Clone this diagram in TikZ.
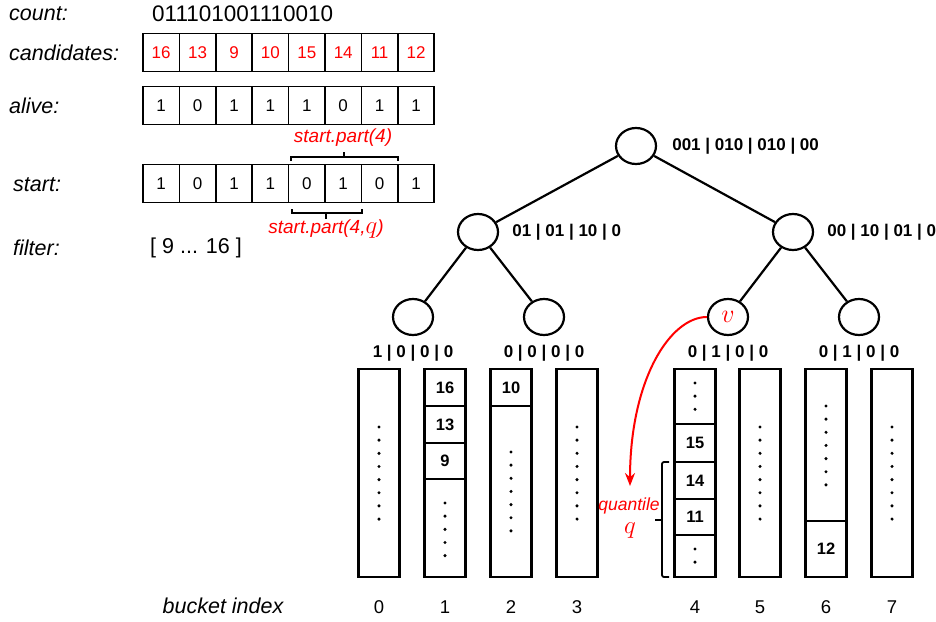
\RequirePackage{fix-cm}
\documentclass[tikz,border=0pt]{standalone}
\usepackage{fontspec}
\setmainfont{Liberation Sans}
\usetikzlibrary{positioning,shapes.geometric,arrows.meta}

\begin{document}
\begin{tikzpicture}[x=1pt,y=-1pt,
    tag/.style={font={\fontsize{21.5}{24}\selectfont\itshape},anchor=west,inner sep=0},
    txt/.style={font={\fontsize{21.5}{24}\selectfont},anchor=west,inner sep=0},
    cell/.style={draw,line width=1.5pt,minimum width=36.4,minimum height=38,
        inner sep=0,font={\fontsize{17}{20}\selectfont}},
    note/.style={red,font={\fontsize{19}{22}\selectfont\itshape}},
    knot/.style={draw,ellipse,line width=2.2pt,minimum width=40,
        minimum height=36,inner sep=0},
    branch/.style={line width=2.2pt},
    bits/.style={font={\fontsize{17}{20}\selectfont\bfseries},inner sep=1pt},
    bucket/.style={draw,line width=2.2pt,minimum width=41,minimum height=208,inner sep=0},
    entry/.style={font={\fontsize{16.5}{20}\selectfont\bfseries}},
    idx/.style={font={\fontsize{18.5}{22}\selectfont}}]
\useasboundingbox (0,0) rectangle (936,621);

% arrays on the left
\node[tag] (count) at (9,14) {count:};
\node[txt,font={\fontsize{22.5}{25}\selectfont}] (countval) at (152,14) {011101001110010};
\node[tag] (candlbl) at (9,53) {candidates:};
\node[tag] (alivelbl) at (9,106) {alive:};
\node[tag] (startlbl) at (13,185) {start:};
\node[tag] (filterlbl) at (13,248) {filter:};
\node[txt] (filter) at (150,248) {[ 9 ... 16 ]};

\foreach \v [count=\i] in {16,13,9,10,15,14,11,12}
    \node[cell,text=red] (cand\i) at ({143+36.4*(\i-.5)},52.5) {\v};
\foreach \v [count=\i] in {1,0,1,1,1,0,1,1}
    \node[cell] (alive\i) at ({143+36.4*(\i-.5)},105.5) {\v};
\foreach \v [count=\i] in {1,0,1,1,0,1,0,1}
    \node[cell] (start\i) at ({143+36.4*(\i-.5)},183.5) {\v};

\draw[line width=1.4pt] (291,161) -- (291,157) -- (398,157) -- (398,161)
    (344,157) -- (344,152);
\node[note] (part) at (343,138) {start.part(4)};
\draw[line width=1.4pt] (292,209) -- (292,213) -- (362,213) -- (362,209)
    (326,213) -- (326,219);
\node[note] (partq) at (326,229) {start.part(4,{\fontsize{25}{28}\selectfont$q$})};

% tree
\node[knot] (root) at (636,146) {};
\node[knot] (n0) at (478,232) {};
\node[knot] (n1) at (793,232) {};
\node[knot] (l0) at (413,317) {};
\node[knot] (l1) at (544,317) {};
\node[knot,text=red] (v) at (728,317) {\fontsize{26}{28}\selectfont$v$};
\node[knot] (l3) at (859,317) {};
\draw[branch] (root) -- (n0) (root) -- (n1) (n0) -- (l0) (n0) -- (l1)
    (n1) -- (v) (n1) -- (l3);

\node[bits,right=14pt of root] (rootbits) {001 | 010 | 010 | 00};
\node[bits,right=12pt of n0] (n0bits) {01 | 01 | 10 | 0};
\node[bits,right=12pt of n1] (n1bits) {00 | 10 | 01 | 0};
\node[bits,below=8pt of l0] (l0bits) {1 | 0 | 0 | 0};
\node[bits,below=8pt of l1] (l1bits) {0 | 0 | 0 | 0};
\node[bits,below=8pt of v] (vbits) {0 | 1 | 0 | 0};
\node[bits,below=8pt of l3] (l3bits) {0 | 1 | 0 | 0};

% buckets
\foreach \x [count=\i from 0] in {379,445,511,577,695,760,826,892} {
    \node[bucket] (b\i) at (\x,473) {};
    \node[idx] (i\i) at (\x,607) {\i};
}
\node[tag,anchor=center] (bidx) at (223,606) {bucket index};

\foreach \x/\y in {445/406,445/443,445/479,511/406,695/424,695/462,695/499,695/535,826/521}
    \draw[branch] (\x-20.5,\y) -- (\x+20.5,\y);
\foreach \x/\y/\v in {445/387.5/16,445/424.5/13,445/461/9,511/387.5/10,
        695/443/15,695/480.5/14,695/517/11,826/549/12}
    \node[entry] (e\v) at (\x,\y) {\v};
\foreach \x/\top/\n in {379/427/7,445/503/4,511/452/6,577/427/7,695/383/2,
        695/549/1,760/427/7,826/406/6,892/427/7}
    \foreach \k in {0,...,\n}
        \fill (\x,{\top+13.15*\k}) circle (1.7pt);

% quantile
\draw[line width=1.8pt,rounded corners=2pt] (669,462) -- (662,462) -- (662,577) -- (669,577);
\draw[line width=1.8pt] (662,520) -- (655,520);
\node[note,inner sep=0,font={\fontsize{17.5}{20}\selectfont\itshape}] (quant) at (629,506) {quantile};
\node[red,inner sep=0] (qq) at (630,531) {\fontsize{25}{28}\selectfont$q$};
\draw[red,line width=2pt,-{Stealth[length=13pt,width=10pt]}] (v.west)
    .. controls (670,317) and (630,380) .. (630,486);
\end{tikzpicture}
\end{document}
